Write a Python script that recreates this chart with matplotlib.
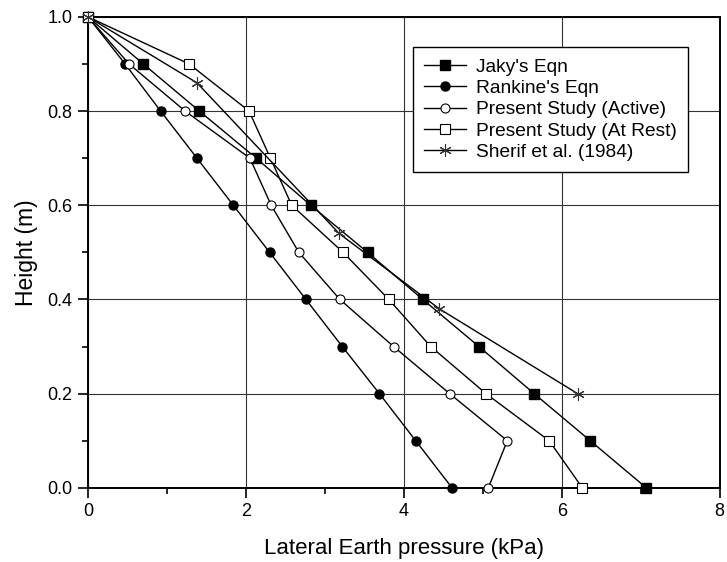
import matplotlib
matplotlib.use("Agg")
import matplotlib.pyplot as plt
from matplotlib.ticker import MultipleLocator

plt.rcParams['font.family'] = ['Liberation Sans', 'DejaVu Sans']

heights = [1.0, 0.9, 0.8, 0.7, 0.6, 0.5, 0.4, 0.3, 0.2, 0.1, 0.0]
jaky = [0.0, 0.70, 1.41, 2.13, 2.82, 3.54, 4.24, 4.95, 5.65, 6.36, 7.07]
rankine = [0.0, 0.47, 0.92, 1.38, 1.84, 2.30, 2.76, 3.22, 3.69, 4.15, 4.61]
active = [0.0, 0.52, 1.23, 2.05, 2.32, 2.67, 3.19, 3.87, 4.58, 5.31, 5.07]
at_rest = [0.0, 1.28, 2.04, 2.31, 2.58, 3.23, 3.81, 4.34, 5.04, 5.84, 6.26]
sherif_h = [1.0, 0.86, 0.54, 0.38, 0.20]
sherif_p = [0.0, 1.38, 3.18, 4.45, 6.20]

x_ticks = [0, 2, 4, 6, 8]
y_ticks = [0.0, 0.2, 0.4, 0.6, 0.8, 1.0]

fig = plt.figure(figsize=(7.27, 5.62), dpi=100)
ax = fig.add_axes([0.121, 0.132, 0.869, 0.838])

kw = dict(color='black', lw=1.0, markersize=6.5, clip_on=False, zorder=3)
ax.plot(jaky, heights, marker='s', mfc='black', mec='black', label="Jaky's Eqn", **kw)
ax.plot(rankine, heights, marker='o', mfc='black', mec='black', label="Rankine's Eqn", **kw)
ax.plot(active, heights, marker='o', mfc='white', mec='black', mew=0.8, label="Present Study (Active)", **kw)
ax.plot(at_rest, heights, marker='s', mfc='white', mec='black', mew=0.8, label="Present Study (At Rest)", **kw)
ax.plot(sherif_p, sherif_h, marker=(6, 2, 0), mec='#333333', mew=0.8, markersize=9, color='black', lw=1.0,
        clip_on=False, zorder=3, label="Sherif et al. (1984)")

ax.set_xlim(0, 8)
ax.set_ylim(0, 1.0)
ax.set_xticks(x_ticks)
ax.set_yticks(y_ticks)
ax.set_xticklabels([str(v) for v in x_ticks])
ax.set_yticklabels([f"{v:.1f}" for v in y_ticks])
ax.xaxis.set_minor_locator(MultipleLocator(1))
ax.yaxis.set_minor_locator(MultipleLocator(0.1))
ax.tick_params(which='major', direction='out', length=7, width=1.2, labelsize=13, colors='black', pad=4)
ax.tick_params(which='minor', direction='out', length=4, width=1.2)
ax.grid(True, which='major', color='#333333', lw=0.8)
ax.set_axisbelow(True)
for s in ax.spines.values():
    s.set_linewidth(1.4)

ax.set_xlabel('Lateral Earth pressure (kPa)', fontsize=16, labelpad=13)
ax.set_ylabel('Height (m)', fontsize=16.5, labelpad=7)

leg = ax.legend(loc='upper left', bbox_to_anchor=(0.514, 0.936), borderaxespad=0, fontsize=13.8,
                frameon=True, fancybox=False, edgecolor='black', framealpha=1,
                handlelength=2.2, borderpad=0.6, labelspacing=0.2, handletextpad=0.5)
leg.get_frame().set_linewidth(1.0)

fig.savefig('out.png', dpi=100)
